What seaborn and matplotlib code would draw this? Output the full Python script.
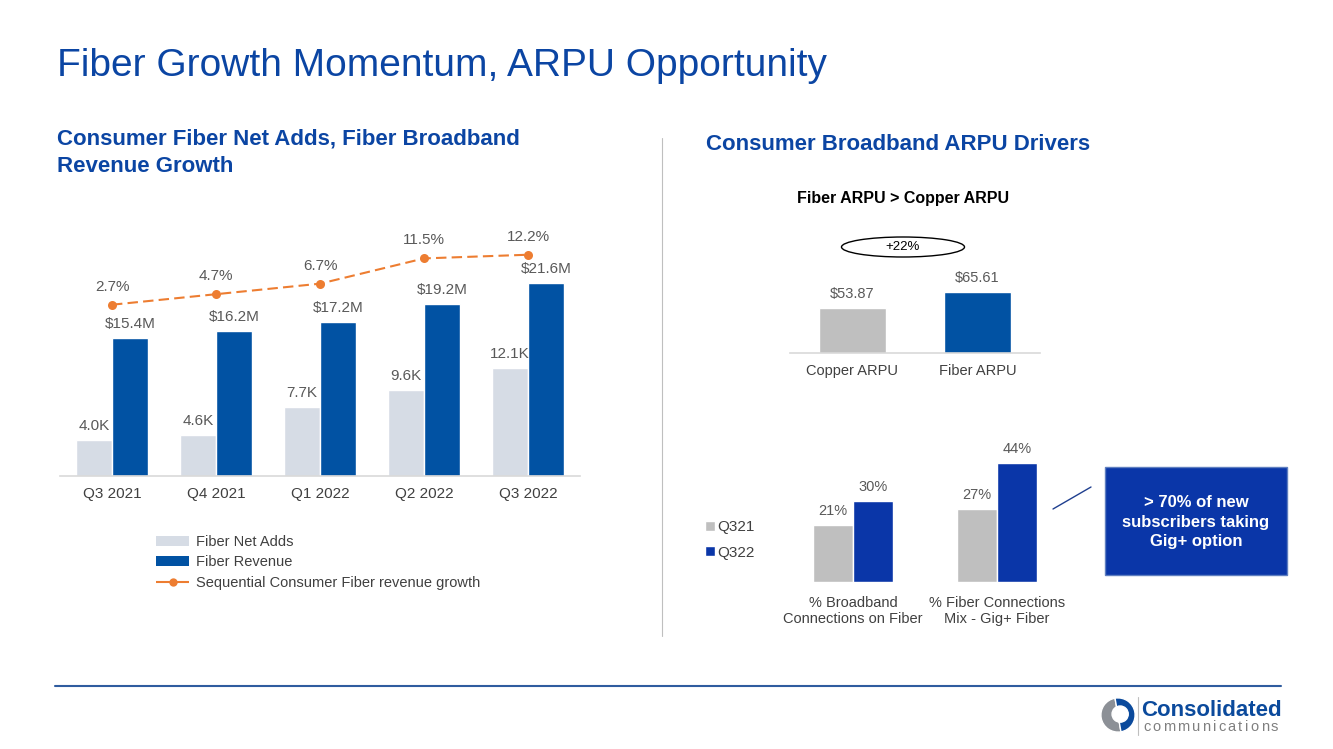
"""Consolidated Communications slide: fiber growth momentum and ARPU drivers."""

import matplotlib.pyplot as plt
import numpy as np
import pandas as pd
import seaborn as sns
from matplotlib.lines import Line2D
from matplotlib.patches import Ellipse, Patch, Rectangle, Wedge, Circle

# --- data -----------------------------------------------------------------
quarters = ["Q3 2021", "Q4 2021", "Q1 2022", "Q2 2022", "Q3 2022"]
net_adds_k = [4.0, 4.6, 7.7, 9.6, 12.1]
revenue_m = [15.4, 16.2, 17.2, 19.2, 21.6]
rev_growth_pct = [2.7, 4.7, 6.7, 11.5, 12.2]

arpu_cats = ["Copper ARPU", "Fiber ARPU"]
arpu_vals = [53.87, 65.61]
arpu_uplift = "+22%"

mix_cats = ["% Broadband\nConnections on Fiber", "% Fiber Connections\nMix - Gig+ Fiber"]
mix_periods = ["Q321", "Q322"]
mix_q321 = [21, 27]
mix_q322 = [30, 44]

# --- colours ----------------------------------------------------------------
BLUE_TITLE = "#0B45A3"
BAR_DARK = "#0152A3"
BAR_LIGHT = "#D6DCE5"
ORANGE = "#ED7D31"
GRAY_BAR = "#BFBFBF"
BLUE_DEEP = "#0A36A8"
TXT = "#404040"
LBL = "#595959"

W, H = 1333, 749

sns.set_theme(style="white")
plt.rcParams["font.family"] = ["Liberation Sans", "DejaVu Sans"]


def fx(px):
    return px / W


def fy(py):
    return 1 - py / H


def axes_rect(left, top, right, bottom):
    return [fx(left), fy(bottom), (right - left) / W, (bottom - top) / H]


def clean(ax, base_color="#D9D9D9", show_base=True):
    for side in ["left", "right", "top"]:
        ax.spines[side].set_visible(False)
    ax.spines["bottom"].set_visible(show_base)
    ax.spines["bottom"].set_color(base_color)
    ax.spines["bottom"].set_linewidth(1.2)
    ax.set_yticks([])
    ax.set_xlabel("")
    ax.set_ylabel("")
    ax.tick_params(axis="x", length=0, pad=8, labelcolor=TXT)
    ax.set_facecolor("none")


fig = plt.figure(figsize=(W / 100, H / 100), dpi=100)

# --- headings ---------------------------------------------------------------
fig.text(fx(57), fy(66), "Fiber Growth Momentum, ARPU Opportunity",
         fontsize=28, color=BLUE_TITLE, va="center", ha="left")
fig.text(fx(57), fy(153), "Consumer Fiber Net Adds, Fiber Broadband\nRevenue Growth",
         fontsize=16, fontweight="bold", color=BLUE_TITLE, va="center", ha="left",
         linespacing=1.38)
fig.text(fx(706), fy(144), "Consumer Broadband ARPU Drivers",
         fontsize=16, fontweight="bold", color=BLUE_TITLE, va="center", ha="left")

# --- left chart: net adds + revenue bars, growth line --------------------------
left_df = pd.DataFrame({
    "quarter": quarters * 2,
    "series": ["Fiber Net Adds"] * 5 + ["Fiber Revenue"] * 5,
    "value": net_adds_k + revenue_m,
})
ax = fig.add_axes(axes_rect(60, 230, 580, 476))
sns.barplot(data=left_df, x="quarter", y="value", hue="series",
            palette=[BAR_LIGHT, BAR_DARK], saturation=1, width=0.7,
            legend=False, ax=ax)
ax.set_xlim(-0.5, 4.5)
ax.set_ylim(0, 27.5)
clean(ax)
ax.tick_params(axis="x", labelsize=11)
ax.bar_label(ax.containers[0], labels=[f"{v:.1f}K" for v in net_adds_k],
             padding=5, fontsize=11, color=LBL)
ax.bar_label(ax.containers[1], labels=[f"${v:.1f}M" for v in revenue_m],
             padding=5, fontsize=11, color=LBL)

ax2 = ax.twinx()
sns.lineplot(x=np.arange(len(quarters)), y=rev_growth_pct, ax=ax2, color=ORANGE,
             marker="o", markersize=6.5, markeredgewidth=0, linewidth=1.5)
ax2.lines[0].set_dashes([5, 2.5])
ax2.set_ylim(-29.85, 16.9)
ax2.set_xlim(-0.5, 4.5)
for s in ax2.spines.values():
    s.set_visible(False)
ax2.set_yticks([])
for i, v in enumerate(rev_growth_pct):
    ax2.annotate(f"{v:.1f}%", (i, v), xytext=(0, 8), textcoords="offset points",
                 ha="center", va="bottom", fontsize=11, color=LBL)

legend_handles = [
    Patch(facecolor=BAR_LIGHT, edgecolor="none"),
    Patch(facecolor=BAR_DARK, edgecolor="none"),
    Line2D([], [], color=ORANGE, linestyle="--", marker="o", markersize=6,
           markeredgewidth=0, linewidth=1.5, dashes=[7, 3]),
]
fig.legend(legend_handles, ["Fiber Net Adds", "Fiber Revenue",
                            "Sequential Consumer Fiber revenue growth"],
           loc="upper left", bbox_to_anchor=(fx(150), fy(529)), frameon=False,
           fontsize=10.5, handlelength=2.3, handleheight=0.7, handletextpad=0.45,
           labelspacing=0.45, labelcolor=TXT, borderaxespad=0)

# --- separator ----------------------------------------------------------------
fig.add_artist(Line2D([fx(662), fx(662)], [fy(138), fy(636)], color="#BFBFBF",
                      linewidth=0.8))

# --- right top: ARPU comparison ---------------------------------------------------
fig.text(fx(903), fy(198), "Fiber ARPU > Copper ARPU", fontsize=11.5,
         fontweight="bold", color="black", ha="center", va="center")
fig.add_artist(Ellipse((fx(903), fy(247)), 123 / W, 20 / H, transform=fig.transFigure,
                       facecolor="white", edgecolor="black", linewidth=1))
fig.text(fx(903), fy(247), arpu_uplift, fontsize=9.5, color="black",
         ha="center", va="center")

ax3 = fig.add_axes(axes_rect(790, 270, 1040, 353))
sns.barplot(x=arpu_cats, y=arpu_vals, hue=arpu_cats, palette=[GRAY_BAR, BAR_DARK],
            saturation=1, width=0.533, legend=False, ax=ax3)
ax3.set_xlim(-0.5, 1.5)
ax3.set_ylim(20, 82)
clean(ax3)
ax3.tick_params(axis="x", labelsize=10.5)
for cont, v in zip(ax3.containers, arpu_vals):
    ax3.bar_label(cont, labels=[f"${v:.2f}"], padding=5, fontsize=10.5, color=LBL)

# --- right bottom: fiber mix --------------------------------------------------------
mix_df = pd.DataFrame({
    "metric": mix_cats * 2,
    "period": [mix_periods[0]] * 2 + [mix_periods[1]] * 2,
    "value": mix_q321 + mix_q322,
})
ax4 = fig.add_axes(axes_rect(781, 450, 1069, 582))
sns.barplot(data=mix_df, x="metric", y="value", hue="period",
            palette=[GRAY_BAR, BLUE_DEEP], saturation=1, width=0.556,
            legend=False, ax=ax4)
ax4.set_xlim(-0.5, 1.5)
ax4.set_ylim(0, 48.9)
clean(ax4, show_base=False)
ax4.tick_params(axis="x", labelsize=10.5, pad=10)
for cont, vals in zip(ax4.containers, [mix_q321, mix_q322]):
    ax4.bar_label(cont, labels=[f"{v}%" for v in vals], padding=5,
                  fontsize=10.5, color=LBL)

fig.legend([Patch(facecolor=GRAY_BAR), Patch(facecolor=BLUE_DEEP)], mix_periods,
           loc="upper left", bbox_to_anchor=(fx(699), fy(514)), frameon=False,
           fontsize=11, handlelength=0.65, handleheight=0.65, handletextpad=0.15,
           labelspacing=0.75, labelcolor=TXT, borderaxespad=0)

# callout
fig.add_artist(Line2D([fx(1053), fx(1091)], [fy(509), fy(487)], color="#1F3F8F",
                      linewidth=1))
fig.add_artist(Rectangle((fx(1105), fy(575)), 182 / W, 108 / H,
                         transform=fig.transFigure, facecolor=BLUE_DEEP,
                         edgecolor="#5F7FC0", linewidth=1))
fig.text(fx(1196), fy(522), "> 70% of new\nsubscribers taking\nGig+ option",
         fontsize=12, fontweight="bold", color="white", ha="center", va="center",
         linespacing=1.4)

# --- footer ---------------------------------------------------------------------
fig.add_artist(Line2D([fx(55), fx(1281)], [fy(686), fy(686)], color="#2F5C9F",
                      linewidth=1.5))

# logo mark
logo_ax = fig.add_axes(axes_rect(1100, 697, 1136, 733))
logo_ax.set_xlim(-1, 1)
logo_ax.set_ylim(-1, 1)
logo_ax.set_aspect("equal")
logo_ax.axis("off")
logo_ax.add_patch(Wedge((0, 0), 0.95, 100, 280, facecolor="#8C9096"))
logo_ax.add_patch(Wedge((0, 0), 0.95, 280, 100, facecolor="#0B4A9C"))
logo_ax.add_patch(Circle((0.12, 0.05), 0.45, facecolor="white"))
fig.add_artist(Line2D([fx(1138), fx(1138)], [fy(697), fy(735)], color="#BFBFBF",
                      linewidth=0.8))
fig.text(fx(1141), fy(710), "Consolidated", fontsize=16, fontweight="bold",
         color="#0B4A9C", ha="left", va="center")

# letter-spaced wordmark: advance = glyph width (Arial em units) + tracking
glyph_em = {"c": 0.5, "o": 0.556, "m": 0.833, "u": 0.556, "n": 0.556,
            "i": 0.222, "a": 0.556, "t": 0.278, "s": 0.5}
word_px = 1143.0
em_px = 10.5 * 100 / 72
for ch in "communications":
    fig.text(fx(word_px), fy(727), ch, fontsize=10.5, color="#7F7F7F",
             ha="left", va="center")
    word_px += glyph_em[ch] * em_px + 2.3

fig.savefig("out.png", dpi=100)
